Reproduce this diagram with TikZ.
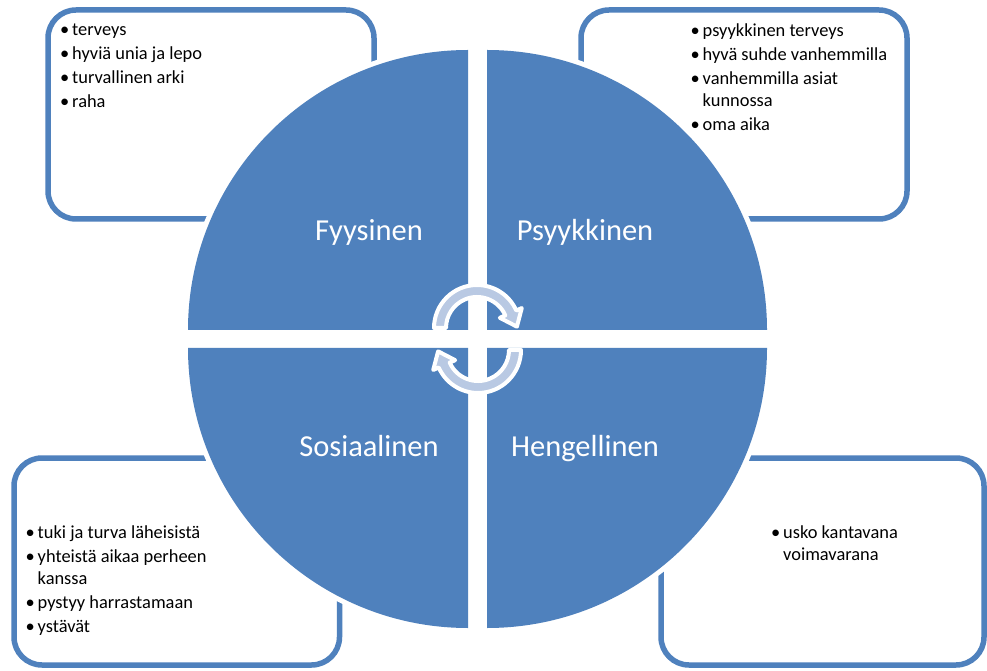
\documentclass[tikz,border=0pt]{standalone}
\usepackage{fontspec}
\setmainfont{Carlito}
\definecolor{qblue}{HTML}{4F81BD}
\definecolor{ablue}{HTML}{B9C9E3}
\newcommand{\bitem}[1]{\makebox[12pt][l]{•}#1}
\newcommand{\bcont}[1]{\hspace*{12pt}#1}
\newcommand{\fstrut}{\rule{0pt}{14pt}}
\begin{document}
\begin{tikzpicture}[x=1pt,y=1pt,
  box/.style={draw=qblue, line width=5.5pt, rounded corners=28pt},
  quad/.style={fill=qblue, preaction={draw=white, line width=10pt}},
  lbl/.style={text=white, font=\fontsize{30.5}{36}\selectfont, anchor=base, inner sep=0pt},
  listtext/.style={anchor=north west, inner sep=0pt, align=left, font=\fontsize{18.4}{22}\selectfont},
  arrowshape/.style={fill=ablue, draw=white, line width=4pt, line join=round}]
\useasboundingbox (0,0) rectangle (987,670);
\fill[white] (0,0) rectangle (987,670);
% boxes
\draw[box] (48,660) rectangle (374,451);
\draw[box] (581,660) rectangle (907,451);
\draw[box] (14,212) rectangle (339.5,5);
\draw[box] (661,212) rectangle (984,5);
% box texts
\node[listtext] (tl) at (60,648.5) {\fstrut\bitem{terveys}\\[2pt]\bitem{hyviä unia ja lepo}\\[2pt]\bitem{turvallinen arki}\\[2pt]\bitem{raha}};
\node[listtext] (tr) at (690.5,648) {\fstrut\bitem{psyykkinen terveys}\\[2pt]\bitem{hyvä suhde vanhemmilla}\\[2pt]\bitem{vanhemmilla asiat}\\\bcont{kunnossa}\\[2pt]\bitem{oma aika}};
\node[listtext] (bl) at (25.5,146) {\fstrut\bitem{tuki ja turva läheisistä}\\[2pt]\bitem{yhteistä aikaa perheen}\\\bcont{kanssa}\\[2pt]\bitem{pystyy harrastamaan}\\[2pt]\bitem{ystävät}};
\node[listtext] (br) at (771,146) {\fstrut\bitem{usko kantavana}\\\bcont{voimavarana}};
% quadrants
\path[quad] (468,340) -- (188,340) arc[start angle=180, end angle=90, radius=280] -- cycle;
\path[quad] (487,340) -- (767,340) arc[start angle=0, end angle=90, radius=280] -- cycle;
\path[quad] (468,322) -- (188,322) arc[start angle=180, end angle=270, radius=280] -- cycle;
\path[quad] (487,322) -- (767,322) arc[start angle=0, end angle=-90, radius=280] -- cycle;
% labels
\node[lbl] (fy) at (369,429) {Fyysinen};
\node[lbl] (ps) at (585,429) {Psyykkinen};
\node[lbl] (so) at (369,214) {Sosiaalinen};
\node[lbl] (he) at (585,214) {Hengellinen};
% circular arrows
\begin{scope}[shift={(477,342)}]
\path[arrowshape] (180:43) arc[start angle=180, end angle=24, radius=43] -- (24:49) -- (39.9,1.35) -- (24:25) -- (24:31) arc[start angle=24, end angle=180, radius=31] -- cycle;
\end{scope}
\begin{scope}[shift={(478,320)}, rotate=180]
\path[arrowshape] (180:43) arc[start angle=180, end angle=24, radius=43] -- (24:49) -- (39.9,1.35) -- (24:25) -- (24:31) arc[start angle=24, end angle=180, radius=31] -- cycle;
\end{scope}
\end{tikzpicture}
\end{document}
